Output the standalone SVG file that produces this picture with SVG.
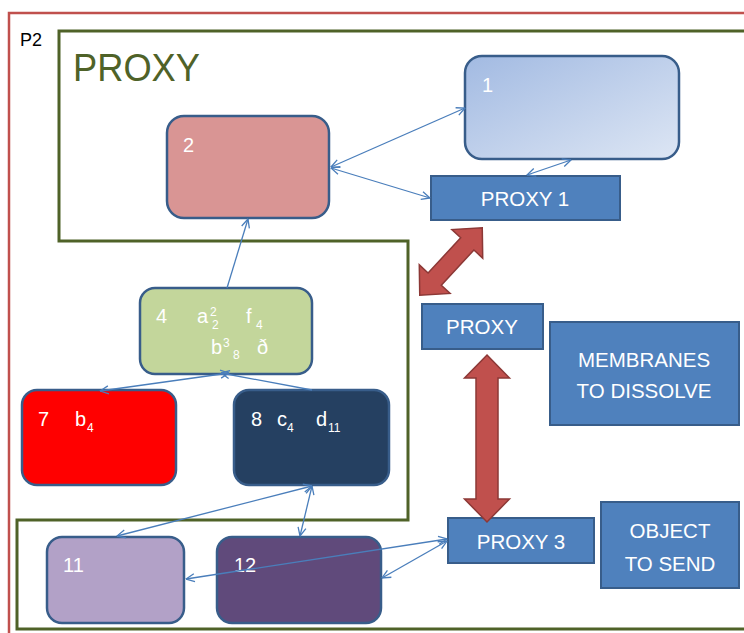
<svg xmlns="http://www.w3.org/2000/svg" width="744" height="633" viewBox="0 0 744 633">
  <style>
    text { font-family: "Liberation Sans", Arial, sans-serif; }
    .node { stroke: #385d8a; stroke-width: 2.5; }
    .box { fill: #4f81bd; stroke: #385d8a; stroke-width: 2; }
    .lbl { fill: #ffffff; font-size: 20.5px; text-anchor: middle; }
    .num { fill: #ffffff; font-size: 20px; }
    .sm { fill: #ffffff; font-size: 12px; }
    .conn { stroke: #4a7ebb; stroke-width: 1.3; fill: none; marker-end: url(#open); }
    .both { marker-start: url(#open); }
    .big { fill: #c0504d; stroke: #8c3836; stroke-width: 1.5; }
  </style>
  <defs>
    <marker id="open" viewBox="0 0 10 10" refX="9.5" refY="5" markerWidth="10" markerHeight="10" markerUnits="userSpaceOnUse" orient="auto-start-reverse">
      <path d="M1,1 L9.5,5 L1,9" fill="none" stroke="#4a7ebb" stroke-width="1.3"/>
    </marker>
    <linearGradient id="g1" x1="0" y1="0" x2="1" y2="1">
      <stop offset="0" stop-color="#a2bae2"/>
      <stop offset="1" stop-color="#dde6f4"/>
    </linearGradient>
  </defs>

  <rect width="744" height="633" fill="#ffffff"/>

  <!-- outer container P2 -->
  <g id="p2">
    <rect x="9" y="13" width="800" height="700" fill="none" stroke="#c0504d" stroke-width="2.5"/>
    <text x="20" y="46" font-size="18" fill="#000000">P2</text>
  </g>

  <!-- proxy membrane outline -->
  <g id="membrane">
    <polyline points="750,31 59,31 59,241 408,241 408,520 17,520 17,629 750,629" fill="none" stroke="#4f6228" stroke-width="3"/>
    <text x="73" y="81" font-size="39" fill="#4f6228" textLength="127" lengthAdjust="spacingAndGlyphs">PROXY</text>
  </g>

  <g id="node1">
    <rect class="node" x="465" y="56" width="214" height="103" rx="17" fill="url(#g1)"/>
    <text class="num" x="482" y="92">1</text>
  </g>
  <g id="node2">
    <rect class="node" x="167" y="116" width="162" height="102" rx="17" fill="#d99594"/>
    <text class="num" x="183" y="152">2</text>
  </g>
  <g id="proxy1">
    <rect class="box" x="431" y="176" width="189" height="44"/>
    <text class="lbl" x="525" y="206">PROXY 1</text>
  </g>
  <g id="node4">
    <rect class="node" x="140" y="288" width="172" height="86" rx="15" fill="#c3d69b"/>
    <text class="num" x="156" y="323">4</text>
    <text class="num" x="197" y="323">a</text>
    <text class="sm" x="210" y="316">2</text>
    <text class="sm" x="212" y="329">2</text>
    <text class="num" x="246" y="323">f</text>
    <text class="sm" x="256" y="329">4</text>
    <text class="num" x="211" y="354">b</text>
    <text class="sm" x="223" y="347">3</text>
    <text class="sm" x="233" y="359">8</text>
    <text class="num" x="257" y="354">ð</text>
  </g>
  <g id="node7">
    <rect class="node" x="22" y="390" width="154" height="95" rx="15" fill="#ff0000"/>
    <text class="num" x="38" y="426">7</text>
    <text class="num" x="75" y="426">b</text>
    <text class="sm" x="87" y="432">4</text>
  </g>
  <g id="node8">
    <rect class="node" x="234" y="390" width="155" height="95" rx="15" fill="#254061"/>
    <text class="num" x="251" y="426">8</text>
    <text class="num" x="277" y="426">c</text>
    <text class="sm" x="287" y="432">4</text>
    <text class="num" x="316" y="426">d</text>
    <text class="sm" x="328" y="432">11</text>
  </g>
  <g id="proxy">
    <rect class="box" x="422" y="304" width="121" height="45"/>
    <text class="lbl" x="482" y="334">PROXY</text>
  </g>
  <g id="membranes">
    <rect class="box" x="550" y="322" width="189" height="103"/>
    <text class="lbl" x="644" y="367">MEMBRANES</text>
    <text class="lbl" x="644" y="398">TO DISSOLVE</text>
  </g>
  <g id="node11">
    <rect class="node" x="47" y="537" width="137" height="86" rx="15" fill="#b2a1c7"/>
    <text class="num" x="63" y="572">11</text>
  </g>
  <g id="node12">
    <rect class="node" x="217" y="537" width="164" height="86" rx="15" fill="#604a7b"/>
    <text class="num" x="234" y="572">12</text>
  </g>
  <g id="proxy3">
    <rect class="box" x="448" y="518" width="146" height="45"/>
    <text class="lbl" x="521" y="549">PROXY 3</text>
  </g>
  <g id="object">
    <rect class="box" x="601" y="502" width="138" height="86"/>
    <text class="lbl" x="670" y="538">OBJECT</text>
    <text class="lbl" x="670" y="571">TO SEND</text>
  </g>

  <!-- thick double arrows between proxies -->
  <g id="transfers">
    <path class="big" transform="translate(451,261.5) rotate(-47.2)" d="M-46,0 L-24,-21 L-24,-9 L24,-9 L24,-21 L46,0 L24,21 L24,9 L-24,9 L-24,21 Z"/>
    <path class="big" d="M487,355 L509.5,378 L498,378 L498,499 L509.5,499 L487,522 L464.5,499 L476,499 L476,378 L464.5,378 Z"/>
  </g>

  <!-- connectors -->
  <g id="connectors">
    <line class="conn both" x1="331" y1="167" x2="465" y2="108"/>
    <line class="conn both" x1="331" y1="168" x2="430" y2="198"/>
    <line class="conn both" x1="527" y1="175" x2="571" y2="160"/>
    <line class="conn" x1="227" y1="288" x2="248" y2="219"/>
    <line class="conn both" x1="100" y1="391" x2="229" y2="373"/>
    <line class="conn" x1="312" y1="390" x2="221" y2="373"/>
    <line class="conn both" x1="117" y1="536" x2="312" y2="486"/>
    <line class="conn both" x1="300" y1="536" x2="312" y2="486"/>
    <line class="conn both" x1="186" y1="579" x2="447" y2="539"/>
    <line class="conn both" x1="382" y1="578" x2="447" y2="541"/>
  </g>
</svg>
